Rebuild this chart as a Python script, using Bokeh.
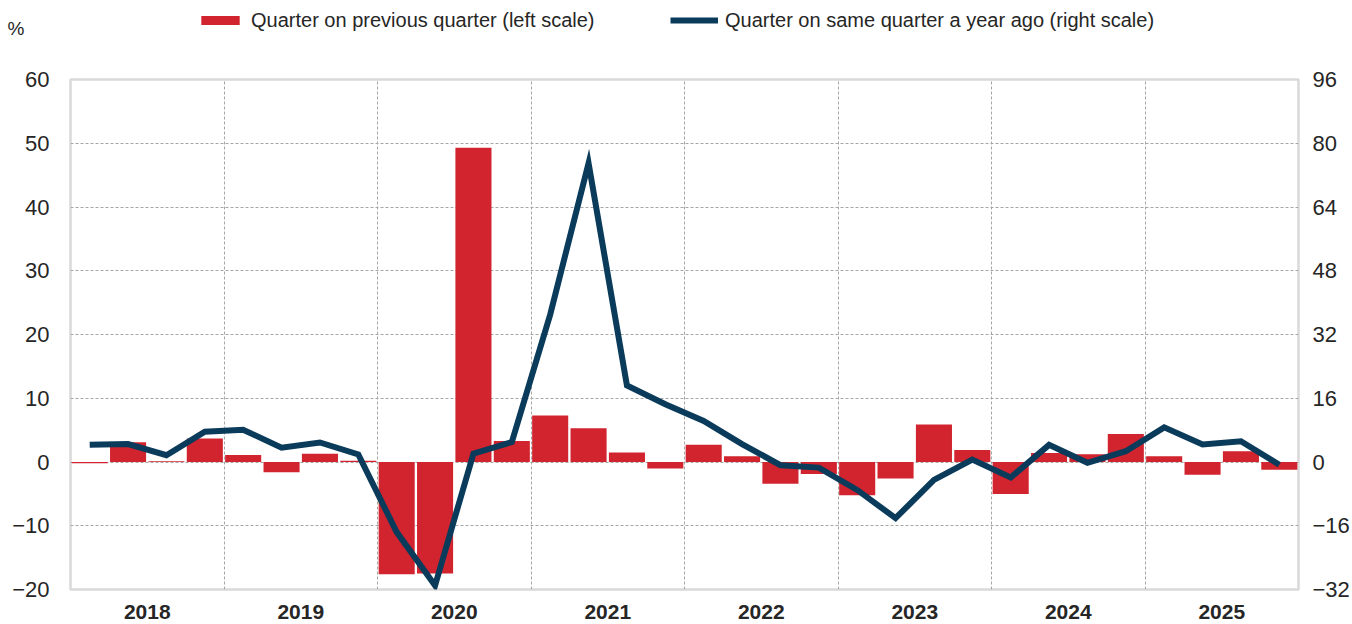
from bokeh.plotting import figure
from bokeh.layouts import column
from bokeh.models import (Range1d, LinearAxis, FixedTicker, Legend, LegendItem,
                          ColumnDataSource)
from bokeh.embed import file_html
from bokeh.resources import INLINE

# ---- data ----
years = ["2018", "2019", "2020", "2021", "2022", "2023", "2024", "2025"]
quarters = [f"{y}Q{q}" for y in years for q in (1, 2, 3, 4)]
qoq = [-0.2, 3.1, 0.1, 3.7, 1.1, -1.6, 1.3, 0.2,
       -17.6, -17.5, 49.3, 3.3, 7.3, 5.3, 1.5, -1.0,
       2.7, 0.9, -3.4, -1.9, -5.2, -2.6, 5.9, 1.9,
       -5.0, 1.4, 1.2, 4.4, 0.9, -2.0, 1.7, -1.2]
yoy = [4.3, 4.5, 1.7, 7.6, 8.1, 3.6, 4.9, 1.9,
       -17.6, -31.0, 2.1, 5.0, 37.0, 75.0, 19.2, 14.5,
       10.3, 4.5, -0.8, -1.4, -7.0, -14.1, -4.5, 0.6,
       -3.9, 4.3, -0.2, 2.7, 8.7, 4.4, 5.2, -0.7]
left_ticks = [-20, -10, 0, 10, 20, 30, 40, 50, 60]
right_ticks = [-32, -16, 0, 16, 32, 48, 64, 80, 96]
label_qoq = "Quarter on previous quarter (left scale)"
label_yoy = "Quarter on same quarter a year ago (right scale)"
unit_label = "%"

FONT = "Liberation Sans"
TXT = "#262626"
RED = "#d1242f"
NAVY = "#0b3b5a"
TOP_H = 40
FRAME_LEFT = 70
BORDER_RIGHT = 52

idx = [i + 0.5 for i in range(len(quarters))]
src = ColumnDataSource(dict(x=idx, q=quarters, qoq=qoq, yoy=yoy))

# ---------------- legend strip ----------------
top = figure(width=1352, height=TOP_H, output_backend="svg", toolbar_location=None,
             x_range=Range1d(0, 1), y_range=Range1d(0, TOP_H),
             x_axis_type=None, y_axis_type=None, min_border=0,
             min_border_left=FRAME_LEFT, min_border_right=BORDER_RIGHT)
top.outline_line_color = None
top.background_fill_color = "white"
top.border_fill_color = "white"

# "%" unit shown as the single tick label of an invisible left axis
unit_axis = LinearAxis(ticker=FixedTicker(ticks=[TOP_H - 27.5]),
                       major_label_overrides={TOP_H - 27.5: unit_label})
unit_axis.axis_line_color = None
unit_axis.major_tick_line_color = None
unit_axis.minor_tick_line_color = None
unit_axis.major_label_standoff = 40
unit_axis.major_label_text_font = FONT
unit_axis.major_label_text_font_size = "19px"
unit_axis.major_label_text_color = TXT
top.add_layout(unit_axis, "left")

nan = float("nan")
dummy = ColumnDataSource(dict(x=[nan], y=[nan]))
dbar = top.vbar(x="x", top="y", width=1, source=dummy, fill_color=RED, line_color=None)
dline = top.line(x="x", y="y", source=dummy, line_color=NAVY, line_width=6)


def make_legend(label, rend, xpos):
    lg = Legend(items=[LegendItem(label=label, renderers=[rend])],
                location="left", orientation="horizontal",
                padding=0, margin=xpos - FRAME_LEFT, spacing=0,
                glyph_width=48, glyph_height=11, label_height=20,
                label_standoff=7,
                label_text_font=FONT, label_text_font_size="20px",
                label_text_color=TXT,
                border_line_alpha=0, background_fill_alpha=0)
    top.add_layout(lg, "center")


make_legend(label_qoq, dbar, 196)
make_legend(label_yoy, dline, 670)

# ---------------- main chart ----------------
p = figure(width=1352, height=624 - TOP_H, output_backend="svg", toolbar_location=None,
           x_range=Range1d(0, len(quarters)), y_range=Range1d(-20, 60),
           min_border_left=FRAME_LEFT, min_border_right=BORDER_RIGHT,
           min_border_top=79 - TOP_H, min_border_bottom=35)
p.extra_y_ranges = {"right": Range1d(-32, 96)}

p.outline_line_color = "#d9d9d9"
p.outline_line_width = 2.5
p.background_fill_color = "white"
p.border_fill_color = "white"

bars = p.vbar(x="x", top="qoq", bottom=0, width=0.94, source=src,
              fill_color=RED, line_color=None)
line = p.line(x="x", y="yoy", source=src, y_range_name="right",
              line_color=NAVY, line_width=6, line_join="miter")


def style_axis(ax, size="22px", bold=False):
    ax.axis_line_color = None
    ax.major_tick_line_color = None
    ax.minor_tick_line_color = None
    ax.major_label_text_font = FONT
    ax.major_label_text_font_size = size
    ax.major_label_text_color = TXT
    if bold:
        ax.major_label_text_font_style = "bold"


p.yaxis.ticker = FixedTicker(ticks=left_ticks)
p.yaxis.major_label_standoff = 15
style_axis(p.yaxis[0])

raxis = LinearAxis(y_range_name="right", ticker=FixedTicker(ticks=right_ticks))
raxis.major_tick_out = 0
raxis.major_tick_in = 0
raxis.minor_tick_out = 0
raxis.minor_tick_in = 0
raxis.major_label_standoff = 14
style_axis(raxis)
p.add_layout(raxis, "right")

year_centers = [4 * i + 2 for i in range(len(years))]
p.xaxis.ticker = FixedTicker(ticks=year_centers)
p.xaxis.major_label_overrides = {c: y for c, y in zip(year_centers, years)}
p.xaxis.major_label_standoff = 9
style_axis(p.xaxis[0], size="21px", bold=True)

p.xgrid.ticker = FixedTicker(ticks=[4 * i for i in range(1, len(years))])
p.ygrid.ticker = FixedTicker(ticks=left_ticks)
for g in (p.xgrid[0], p.ygrid[0]):
    g.grid_line_color = "#a6a6a6"
    g.grid_line_dash = "3 2"
    g.grid_line_width = 1

layout = column(top, p, spacing=0)
open("out.html", "w").write(file_html(layout, INLINE))
